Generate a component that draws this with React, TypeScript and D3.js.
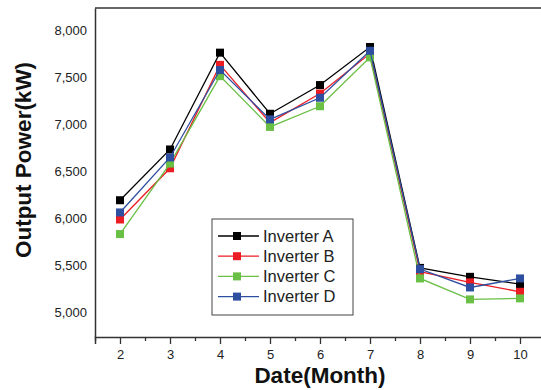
import { useEffect, useRef } from 'react';
import * as d3 from 'd3';

const months = [2, 3, 4, 5, 6, 7, 8, 9, 10];
const inverterA = [6190, 6730, 7760, 7110, 7415, 7820, 5470, 5375, 5298];
const inverterB = [5985, 6530, 7630, 7015, 7325, 7750, 5430, 5316, 5216];
const inverterC = [5830, 6580, 7510, 6970, 7190, 7710, 5358, 5135, 5146];
const inverterD = [6060, 6645, 7575, 7050, 7280, 7780, 5457, 5262, 5358];
const yTicks = [5000, 5500, 6000, 6500, 7000, 7500, 8000];

const series = [
  { name: 'Inverter A', values: inverterA, color: '#000000' },
  { name: 'Inverter B', values: inverterB, color: '#ec1c24' },
  { name: 'Inverter C', values: inverterC, color: '#6abf45' },
  { name: 'Inverter D', values: inverterD, color: '#2e4fa0' },
];

export default function App() {
  const svgRef = useRef<SVGSVGElement>(null);

  useEffect(() => {
    const svg = d3.select(svgRef.current);
    if (!svg.node()) return;
    svg.selectAll('*').remove();

    const width = 541;
    const height = 390;
    const margin = { top: 8, right: -4, bottom: 53, left: 95 };
    const font = 'Arial, "Liberation Sans", sans-serif';

    const x = d3.scaleLinear().domain([1.5, 10.5]).range([margin.left, width - margin.right]);
    const y = d3.scaleLinear().domain([4735, 8235]).range([height - margin.bottom, margin.top]);

    const g = svg.append('g');

    // frame top line
    g.append('line')
      .attr('x1', margin.left)
      .attr('x2', width)
      .attr('y1', margin.top)
      .attr('y2', margin.top)
      .attr('stroke', '#333')
      .attr('stroke-width', 1.5);

    // x axis: minor ticks at half months, then the major axis
    g.append('g')
      .attr('transform', `translate(0,${height - margin.bottom})`)
      .call(d3.axisBottom(x).tickValues(d3.range(1.5, 10.6, 1)).tickSize(4).tickFormat(() => ''))
      .call((sel) => sel.select('.domain').remove())
      .call((sel) => sel.selectAll('line').attr('stroke', '#333').attr('stroke-width', 1.3));
    g.append('g')
      .attr('transform', `translate(0,${height - margin.bottom})`)
      .call(d3.axisBottom(x).tickValues(months).tickSize(7).tickPadding(6).tickFormat((v) => `${v}`))
      .call((sel) => sel.select('.domain').attr('stroke', '#333').attr('stroke-width', 1.5))
      .call((sel) => sel.selectAll('.tick line').attr('stroke', '#333').attr('stroke-width', 1.3))
      .call((sel) =>
        sel.selectAll('text').attr('font-family', font).attr('font-size', 13).attr('fill', '#222'),
      );

    // y axis
    g.append('g')
      .attr('transform', `translate(${margin.left},0)`)
      .call(d3.axisLeft(y).tickValues(yTicks).tickSize(0).tickPadding(8).tickFormat(d3.format(',')))
      .call((sel) => sel.select('.domain').attr('stroke', '#333').attr('stroke-width', 1.5))
      .call((sel) =>
        sel.selectAll('text').attr('font-family', font).attr('font-size', 13).attr('fill', '#222'),
      );

    g.append('text')
      .attr('x', (margin.left + width - margin.right) / 2)
      .attr('y', 383)
      .attr('text-anchor', 'middle')
      .attr('font-family', font)
      .attr('font-weight', 'bold')
      .attr('font-size', 22.5)
      .attr('fill', '#111')
      .text('Date(Month)');

    g.append('text')
      .attr('transform', 'translate(31,160) rotate(-90)')
      .attr('text-anchor', 'middle')
      .attr('font-family', font)
      .attr('font-weight', 'bold')
      .attr('font-size', 22.5)
      .attr('fill', '#111')
      .text('Output Power(kW)');

    const line = d3
      .line<number>()
      .x((_, i) => x(months[i]))
      .y((d) => y(d));

    series.forEach((s) => {
      const sg = g.append('g');
      sg.append('path')
        .attr('d', line(s.values))
        .attr('fill', 'none')
        .attr('stroke', s.color)
        .attr('stroke-width', 1.3);
      sg.selectAll('rect')
        .data(s.values)
        .join('rect')
        .attr('x', (_, i) => x(months[i]) - 4)
        .attr('y', (d) => y(d) - 4)
        .attr('width', 8)
        .attr('height', 8)
        .attr('fill', s.color);
    });

    // legend
    const lg = g.append('g').attr('transform', 'translate(212,219)');
    lg.append('rect')
      .attr('width', 141)
      .attr('height', 96)
      .attr('fill', '#fff')
      .attr('stroke', '#444')
      .attr('stroke-width', 1);
    series.forEach((s, i) => {
      const ry = 17 + i * 20.2;
      lg.append('line')
        .attr('x1', 6)
        .attr('x2', 47)
        .attr('y1', ry)
        .attr('y2', ry)
        .attr('stroke', s.color)
        .attr('stroke-width', 1.3);
      lg.append('rect')
        .attr('x', 21)
        .attr('y', ry - 4)
        .attr('width', 8)
        .attr('height', 8)
        .attr('fill', s.color);
      lg.append('text')
        .attr('x', 51)
        .attr('y', ry + 5.5)
        .attr('font-family', font)
        .attr('font-size', 16.5)
        .attr('fill', '#222')
        .text(s.name);
    });
  }, []);

  return (
    <svg
      ref={svgRef}
      width={541}
      height={390}
      style={{ position: 'absolute', left: 0, top: 0, background: '#fff' }}
    />
  );
}
